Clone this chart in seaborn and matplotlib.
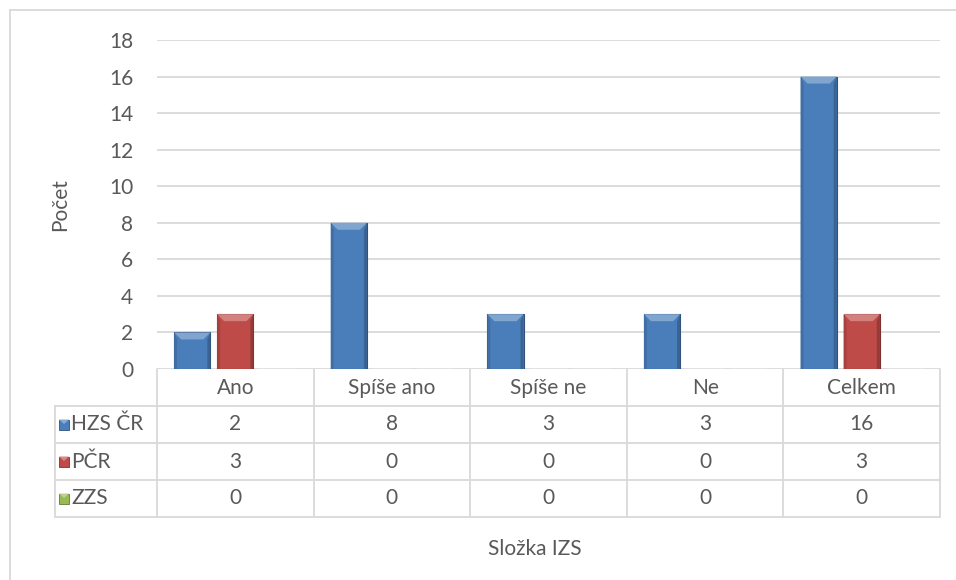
import matplotlib
matplotlib.use("Agg")
import matplotlib.pyplot as plt
import numpy as np
import pandas as pd
import seaborn as sns
from matplotlib.patches import Rectangle, Polygon
from matplotlib.lines import Line2D
from matplotlib.colors import to_rgb

# --- data -----------------------------------------------------------------
categories = ["Ano", "Spíše ano", "Spíše ne", "Ne", "Celkem"]
series = ["HZS ČR", "PČR", "ZZS"]
hzs_cr = [2, 8, 3, 3, 16]
pcr = [3, 0, 0, 0, 3]
zzs = [0, 0, 0, 0, 0]
y_ticks = [0, 2, 4, 6, 8, 10, 12, 14, 16, 18]

palette = {"HZS ČR": "#4a7ebb", "PČR": "#be4b48", "ZZS": "#98b954"}
TEXT = "#595959"
GRID = "#d9d9d9"
FS = 15

values = {"HZS ČR": hzs_cr, "PČR": pcr, "ZZS": zzs}
df = pd.DataFrame({
    "Složka IZS": categories * len(series),
    "Řada": [s for s in series for _ in categories],
    "Počet": hzs_cr + pcr + zzs,
})

sns.set_theme(style="white")
plt.rcParams["font.family"] = ["Lato", "DejaVu Sans"]

W, H = 956, 580
fig = plt.figure(figsize=(W / 100, H / 100), dpi=100)
ax = fig.add_axes([157 / W, 1 - 369 / H, 783 / W, 329 / H])

sns.barplot(data=df, x="Složka IZS", y="Počet", hue="Řada",
            order=categories, hue_order=series, palette=palette,
            width=0.825, gap=0.16, saturation=1, errorbar=None,
            legend=False, ax=ax, zorder=3)

ax.set_xlim(-0.5, len(categories) - 0.5)
ax.set_ylim(0, 18)
ax.set_yticks(y_ticks)
ax.yaxis.grid(True, color=GRID, lw=1.3)
ax.xaxis.grid(False)
ax.set_axisbelow(True)
for s in ax.spines.values():
    s.set_visible(False)
ax.tick_params(axis="y", length=0, pad=17, labelsize=FS, labelcolor=TEXT)
ax.tick_params(axis="x", length=0, labelbottom=False)
ax.set_xlabel("")
ax.set_ylabel("")


def mix(c, other, t):
    c = np.array(to_rgb(c))
    o = np.array(to_rgb(other))
    return tuple(c * (1 - t) + o * t)


# bevelled look on each bar, built from the patch geometry
px_x = (len(categories)) / 783
px_y = 18 / 329
for p in list(ax.patches):
    h = p.get_height()
    if h <= 0:
        continue
    x0, w = p.get_x(), p.get_width()
    base = p.get_facecolor()
    p.set_edgecolor(mix(base, "black", 0.35))
    p.set_linewidth(0.8)
    bx, by = 7 * px_x, 7 * px_y
    sx = 3 * px_x
    ax.add_patch(Polygon([(x0, 0), (x0, h), (x0 + sx, h - by), (x0 + sx, 0)],
                         closed=True, facecolor=mix(base, "black", 0.12),
                         edgecolor="none", zorder=3.1))
    ax.add_patch(Polygon([(x0 + w, 0), (x0 + w, h), (x0 + w - sx, h - by), (x0 + w - sx, 0)],
                         closed=True, facecolor=mix(base, "black", 0.22),
                         edgecolor="none", zorder=3.1))
    ax.add_patch(Polygon([(x0, h), (x0 + w, h), (x0 + w - bx, h - by), (x0 + bx, h - by)],
                         closed=True, facecolor=mix(base, "white", 0.3),
                         edgecolor="none", zorder=3.2))

# --- data table under the axis ------------------------------------------------
xt = ax.get_xaxis_transform()
row_h = 37 / 329
left = (55 - 157) / 783
n_rows = 1 + len(series)
bottom = -n_rows * row_h

# horizontal lines
for k in range(1, n_rows + 1):
    ax.add_line(Line2D([left, 1], [-k * row_h] * 2, transform=ax.transAxes,
                       color=GRID, lw=1.3, clip_on=False))
# vertical lines between categories
for i in range(len(categories) + 1):
    ax.add_line(Line2D([i - 0.5] * 2, [0, bottom], transform=xt,
                       color=GRID, lw=1.3, clip_on=False))
ax.add_line(Line2D([left] * 2, [-row_h, bottom], transform=ax.transAxes,
                   color=GRID, lw=1.3, clip_on=False))

for i, c in enumerate(categories):
    ax.text(i, -0.5 * row_h, c, transform=xt, ha="center", va="center",
            fontsize=FS, color=TEXT)

key_w, key_h = 10 / 783, 10 / 329
for r, s in enumerate(series):
    yc = -(r + 1.5) * row_h
    for i, v in enumerate(values[s]):
        ax.text(i, yc, str(v), transform=xt, ha="center", va="center",
                fontsize=FS, color=TEXT)
    kx = (59 - 157) / 783
    base = palette[s]
    ax.add_patch(Rectangle((kx, yc - key_h / 2), key_w, key_h, transform=ax.transAxes,
                           facecolor=base, edgecolor=mix(base, "black", 0.35),
                           lw=0.6, clip_on=False))
    ax.add_patch(Polygon([(kx, yc + key_h / 2), (kx + key_w, yc + key_h / 2),
                          (kx + key_w / 2, yc + key_h * 0.05)],
                         closed=True, transform=ax.transAxes,
                         facecolor=mix(base, "white", 0.35), edgecolor="none",
                         clip_on=False))
    ax.text((71 - 157) / 783, yc, s, transform=ax.transAxes, ha="left",
            va="center", fontsize=FS, color=TEXT)

# --- axis titles and frame --------------------------------------------------
fig.text(60 / W, 1 - 205 / H, "Počet", rotation=90, ha="center", va="center",
         fontsize=FS, color=TEXT)
fig.text(535 / W, 1 - 549 / H, "Složka IZS", ha="center", va="center",
         fontsize=FS, color=TEXT)
fig.add_artist(Rectangle((9.5 / W, -0.1), 2, 1.1 - 10.5 / H, transform=fig.transFigure,
                         facecolor="none", edgecolor=GRID, lw=1.3))

fig.savefig("out.png", dpi=100)
